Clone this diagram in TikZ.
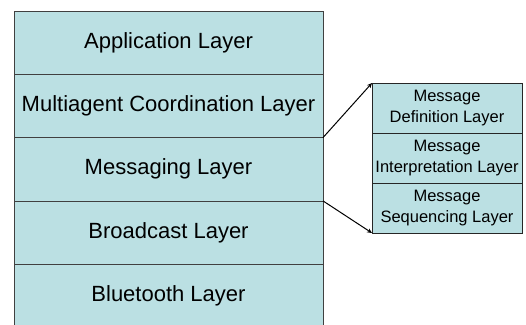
\documentclass[tikz,border=0pt]{standalone}
\usepackage{fontspec}
\setmainfont{Liberation Sans}
\usetikzlibrary{positioning, arrows.meta}
\definecolor{layerfill}{RGB}{187,224,227}
\tikzset{
  layer/.style={
    minimum width=309pt,
    minimum height=63.3pt,
    inner sep=0pt, outer sep=0pt,
    draw=black!75, fill=layerfill,
    font=\fontsize{22}{26}\selectfont,
  },
  sublayer/.style={
    minimum width=150pt,
    minimum height=50pt,
    inner sep=0pt, outer sep=0pt, align=center,
    draw=black!85, fill=layerfill,
    font=\fontsize{16.5}{20.5}\selectfont,
  },
  link/.style={
    line width=1pt,
    -{Stealth[length=5pt, width=4.5pt]},
  },
}

\begin{document}
\begin{tikzpicture}[x=1pt, y=1pt, line width=0.8pt]
\useasboundingbox (0,0) rectangle (526,-324);
\node[layer] (app) at (168.5,-42.65) {Application Layer};
\node[layer, below=0pt of app] (coord) {Multiagent Coordination Layer};
\node[layer, below=0pt of coord] (msg) {Messaging Layer};
\node[layer, below=0pt of msg] (bcast) {Broadcast Layer};
\node[layer, below=0pt of bcast] (bt) {Bluetooth Layer};

\node[sublayer] (def) at (447,-108) {Message\\Definition Layer};
\node[sublayer, below=0pt of def] (interp) {Message\\Interpretation Layer};
\node[sublayer, below=0pt of interp] (seq) {Message\\Sequencing Layer};

\draw[link] (msg.north east) -- (def.north west);
\draw[link] (msg.south east) -- (seq.south west);
\end{tikzpicture}
\end{document}
